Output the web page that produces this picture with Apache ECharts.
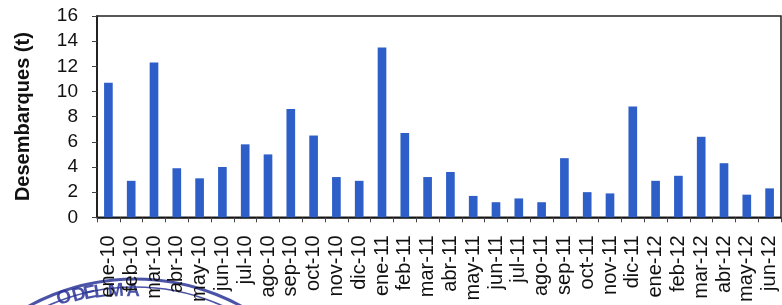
<!DOCTYPE html>
<html>
<head>
<meta charset="utf-8">
<script src="https://cdn.jsdelivr.net/npm/echarts@6/dist/echarts.min.js"></script>
<style>
  html, body { margin: 0; padding: 0; background: #fff; }
  #main { width: 782px; height: 305px; }
</style>
</head>
<body>
<div id="main"></div>
<script>
// meses (ene-10 .. jun-12)
const months = ['ene-10', 'feb-10', 'mar-10', 'abr-10', 'may-10', 'jun-10', 'jul-10', 'ago-10',
  'sep-10', 'oct-10', 'nov-10', 'dic-10', 'ene-11', 'feb-11', 'mar-11', 'abr-11', 'may-11',
  'jun-11', 'jul-11', 'ago-11', 'sep-11', 'oct-11', 'nov-11', 'dic-11', 'ene-12', 'feb-12',
  'mar-12', 'abr-12', 'may-12', 'jun-12'];
// desembarques en toneladas
const landings = [10.7, 2.9, 12.3, 3.9, 3.1, 4.0, 5.8, 5.0, 8.6, 6.5, 3.2, 2.9, 13.5,
  6.7, 3.2, 3.6, 1.7, 1.2, 1.5, 1.2, 4.7, 2.0, 1.9, 8.8, 2.9, 3.3, 6.4, 4.3, 1.8, 2.3];

const chart = echarts.init(document.getElementById('main'), null, { renderer: 'canvas' });

const ink = '#111';
const font = 'Liberation Sans, Arial';
const stamp = '#2b3596';

// sello azul, solo se ve la parte de arriba (centro fuera del lienzo)
const sc = { x: 135, y: 500, r: 221 };
const stampText = [['O', 64, 298], ['D', 79, 295], ['E', 90, 293], ['L', 100, 292], ['M', 116, 291], ['A', 133, 291]];
const stampGraphics = [
  { type: 'circle', z: -1, shape: { cx: sc.x, cy: sc.y, r: sc.r },
    style: { fill: 'none', stroke: stamp, lineWidth: 3, opacity: 0.85 } },
  { type: 'circle', z: -1, shape: { cx: sc.x, cy: sc.y, r: sc.r - 8 },
    style: { fill: 'none', stroke: stamp, lineWidth: 1.5, opacity: 0.85 } }
].concat(stampText.map(([ch, x, y]) => ({
  type: 'text', z: -1, x: x, y: y,
  rotation: -Math.asin((x - sc.x) / sc.r),
  style: { text: ch, fill: stamp, fontFamily: font, fontWeight: 'bold', fontSize: 19,
    align: 'center', verticalAlign: 'middle', opacity: 0.85 }
})));

chart.setOption({
  animation: false,
  grid: {
    left: 97, top: 16, right: 1, bottom: 86,
    show: true, borderColor: '#222', borderWidth: 1.5
  },
  xAxis: {
    type: 'category',
    data: months,
    axisLine: { lineStyle: { color: ink, width: 1.5 } },
    axisTick: { show: true, length: 5, lineStyle: { color: '#444' } },
    axisLabel: {
      rotate: 90, interval: 0, margin: 18,
      fontFamily: font, fontSize: 20, color: ink
    }
  },
  yAxis: {
    type: 'value',
    min: 0, max: 16, interval: 2,
    name: 'Desembarques (t)',
    nameLocation: 'middle',
    nameGap: 64,
    nameTextStyle: { fontFamily: font, fontWeight: 'bold', fontSize: 20, color: ink },
    axisLine: { show: true, lineStyle: { color: ink, width: 1.5 } },
    axisTick: { show: true, length: 5, lineStyle: { color: '#444' } },
    splitLine: { show: false },
    axisLabel: { fontFamily: font, fontSize: 19, color: ink, margin: 19 }
  },
  series: [{
    type: 'bar',
    data: landings,
    barWidth: '38%',
    itemStyle: { color: '#2e5fc9' }
  }],
  graphic: stampGraphics
});
</script>
</body>
</html>
